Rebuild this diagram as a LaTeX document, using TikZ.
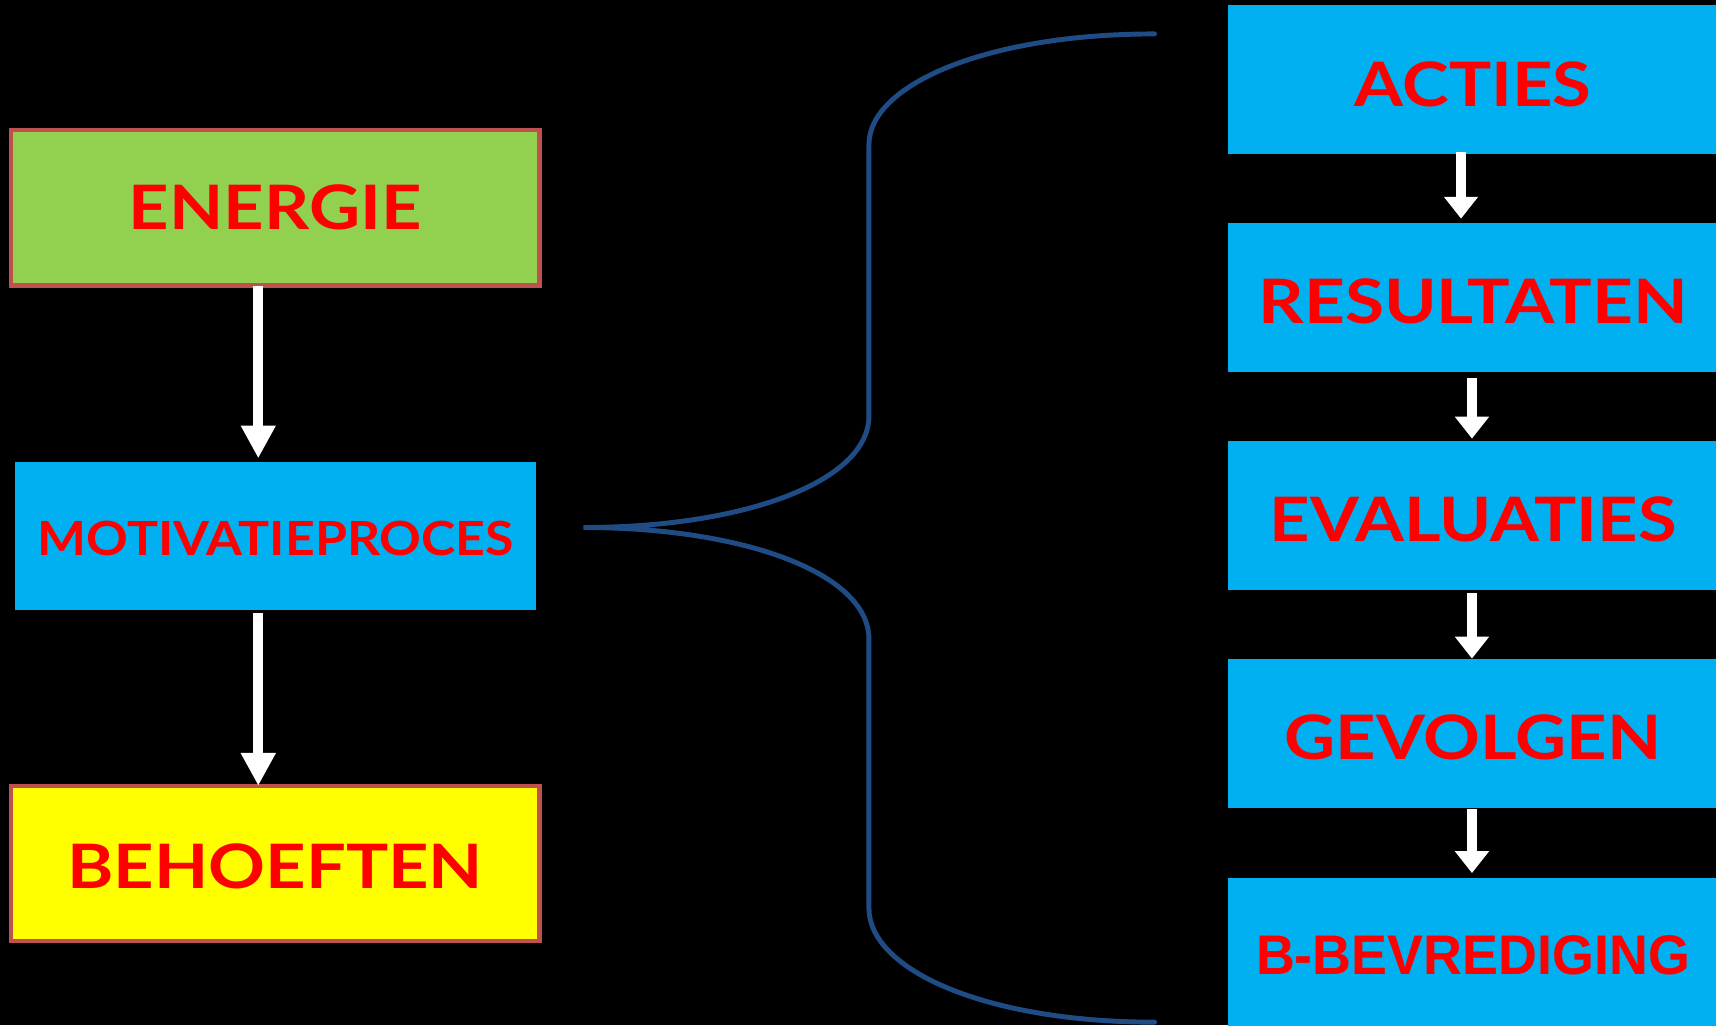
\documentclass[tikz,border=0pt]{standalone}
\usepackage{fontspec}
\setmainfont{Lato}
\newfontfamily\arialfont{Liberation Sans}
\usetikzlibrary{arrows.meta}
\definecolor{boxblue}{RGB}{0,176,240}
\definecolor{boxgreen}{RGB}{146,208,80}
\definecolor{boxyellow}{RGB}{255,255,0}
\definecolor{boxborder}{RGB}{192,80,77}
\definecolor{bracecol}{RGB}{32,76,134}
\definecolor{txtred}{RGB}{255,0,0}
\newcommand\widen[2]{\scalebox{#1}[1]{#2}}
\tikzset{
  bigbox/.style={rectangle, inner sep=0pt, minimum width=483pt, minimum height=142pt,
    draw=boxborder, line width=4pt, text=txtred, font=\fontsize{56}{60}\selectfont\bfseries,
    text depth=0pt},
  bluebox/.style={rectangle, inner sep=0pt, fill=boxblue, text=txtred,
    font=\fontsize{56}{60}\selectfont\bfseries, text depth=0pt},
  stepbox/.style={bluebox, minimum width=448pt, minimum height=136pt, text height=48pt},
  bigarrow/.style={draw=white, line width=9pt, -{Triangle[width=30pt,length=30pt]}},
  smallarrow/.style={draw=white, line width=9pt, -{Triangle[width=30pt,length=20pt]}},
  bracestyle/.style={draw=bracecol, line width=4.5pt, line cap=round}
}
\begin{document}
\begin{tikzpicture}[x=1pt,y=-1pt]
\useasboundingbox (0,0) rectangle (1568,937);
\fill[black] (0,0) rectangle (1568,937);

% left column
\node[bigbox, fill=boxgreen, text height=40pt] (energie) at (251.5,190) {\widen{1.15}{ENERGIE}};
\node[bluebox, minimum width=476pt, minimum height=135pt, text height=36.8pt,
      font=\fontsize{43}{46}\selectfont\bfseries] (motiv) at (252,489.5) {\widen{1.10}{MOTIVATIEPROCES}};
\node[bigbox, fill=boxyellow, text height=46pt] (behoeften) at (251.5,789) {\widen{1.15}{BEHOEFTEN}};

\draw[bigarrow] ([xshift=-15.5pt,yshift=2pt]energie.south) -- ([xshift=-16pt,yshift=3pt]motiv.north);
\draw[bigarrow] ([xshift=-16pt,yshift=-3pt]motiv.south) -- ([xshift=-15.5pt,yshift=-2pt]behoeften.north);

% right column
\node[stepbox] (acties) at (1346,73) {\widen{1.15}{ACTIES}};
\node[stepbox] (resultaten) at (1346,272) {\widen{1.16}{RESULTATEN}};
\node[stepbox] (evaluaties) at (1346,471) {\widen{1.15}{EVALUATIES}};
\node[stepbox] (gevolgen) at (1346,670) {\widen{1.15}{GEVOLGEN}};
\node[stepbox, minimum height=140pt, text height=36.5pt,
      font=\arialfont\fontsize{51}{54}\selectfont\bfseries] (bbev) at (1346,872) {\widen{0.965}{B-BEVREDIGING}};

\draw[smallarrow] ([xshift=-11pt,yshift=2pt]acties.south) -- ([xshift=-11pt,yshift=4pt]resultaten.north);
\draw[smallarrow] ([xshift=-1pt,yshift=-5pt]resultaten.south) -- ([xshift=-1pt,yshift=2pt]evaluaties.north);
\draw[smallarrow] ([xshift=-1pt,yshift=-3pt]evaluaties.south) -- ([xshift=-1pt,yshift=0pt]gevolgen.north);
\draw[smallarrow] ([xshift=-1pt,yshift=-1pt]gevolgen.south) -- ([xshift=-1pt,yshift=4pt]bbev.north);

% brace
\coordinate (btop) at (1055,31);
\coordinate (btip) at (533,482);
\coordinate (bbot) at (1055,934);
\draw[bracestyle] (btop) .. controls (900,31) and (794,78) .. (794,132)
  -- (794,380) .. controls (794,440) and (680,482) .. (btip)
  .. controls (680,482) and (794,524) .. (794,584)
  -- (794,830) .. controls (794,886) and (900,934) .. (bbot);
\end{tikzpicture}
\end{document}
